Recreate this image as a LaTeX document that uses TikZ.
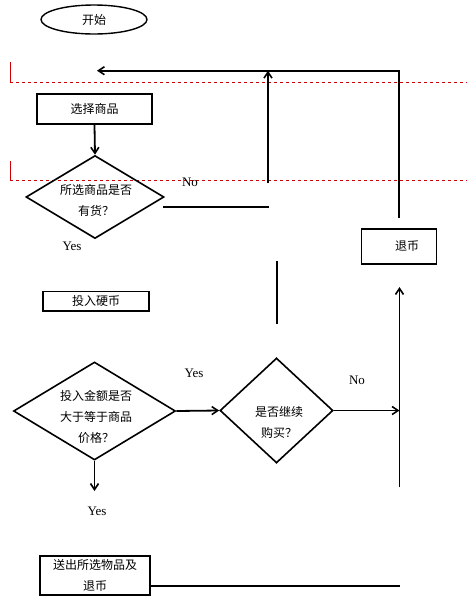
\documentclass[tikz,border=0pt]{standalone}
\usepackage{fontspec}
\setmainfont{Liberation Serif}
\newfontfamily\cjk{Noto Sans CJK SC}
\usetikzlibrary{shapes.geometric,arrows.meta}
\tikzset{
  ln/.style={line width=1.8pt,black},
  arr/.style={ln,-{Straight Barb[length=6pt,width=8pt,line width=1.6pt]}},
  boxnode/.style={draw,line width=1.8pt,inner sep=0pt},
  dia/.style={draw,diamond,line width=1.6pt,inner sep=0pt},
  zh/.style={font=\cjk\fontsize{12}{21}\selectfont,align=center,inner sep=0pt},
  en/.style={font=\fontsize{13}{15}\selectfont,inner sep=0pt},
  reddash/.style={red!80!black,line width=0.7pt,dash pattern=on 3pt off 3pt},
  redsolid/.style={red!80!black,line width=0.7pt}
}
\begin{document}
\begin{tikzpicture}[x=1pt,y=-1pt]
\useasboundingbox[fill=white] (0,0) rectangle (467,603);
% red guide lines
\coordinate (r1a) at (10,62); \coordinate (r1b) at (10,82); \coordinate (r1c) at (467,82);
\coordinate (r2a) at (10,161); \coordinate (r2b) at (10,180); \coordinate (r2c) at (467,180);
\draw[redsolid] (r1a) -- (r1b);
\draw[reddash] (r1b) -- (r1c);
\draw[redsolid] (r2a) -- (r2b);
\draw[reddash] (r2b) -- (r2c);
% shapes
\node[draw,ellipse,line width=1.4pt,minimum width=106pt,minimum height=29pt,inner sep=0pt,zh] (start) at (94,19.5) {开始};
\node[boxnode,minimum width=115pt,minimum height=30pt,zh] (sel) at (94.5,109) {选择商品};
\node[dia,minimum width=138pt,minimum height=83pt] (d1) at (95,197) {};
\node[zh] (d1t) at (96,200) {所选商品是否\\有货？};
\node[en] (yes1) at (72,246) {Yes};
\node[en] (no1) at (190,182) {No};
\node[boxnode,minimum width=75pt,minimum height=35pt] (ret) at (399,246.5) {};
\node[zh] (rett) at (407,246.5) {退币};
\node[boxnode,minimum width=106pt,minimum height=19.7pt,zh] (coin) at (96,301.3) {投入硬币};
\node[dia,minimum width=162pt,minimum height=98pt] (d2) at (94.5,411) {};
\node[zh] (d2t) at (96,416.5) {投入金额是否\\大于等于商品\\价格？};
\node[en] (yes2) at (194,373) {Yes};
\node[dia,minimum width=113pt,minimum height=105pt] (d3) at (276.5,410.5) {};
\node[zh] (d3t) at (279,422) {是否继续\\购买？};
\node[en] (no2) at (357,380) {No};
\node[en] (yes3) at (97,511) {Yes};
\node[boxnode,minimum width=110.6pt,minimum height=39pt] (out) at (95,575.5) {};
\node[zh] (outt) at (95,575) {送出所选物品及\\退币};
% connectors
\coordinate (c1) at (399,217.7);
\coordinate (c2) at (399,70.7);
\coordinate (c3) at (97,70.7);
\draw[arr] (c1) -- (c2) -- (c3);
\coordinate (c4) at (268,183);
\coordinate (c5) at (268,70.7);
\draw[arr] (c4) -- (c5);
\draw[arr] (sel.south) -- (d1.north);
\coordinate (n1a) at (163,207);
\coordinate (n1b) at (269,207);
\draw[ln] (n1a) -- (n1b);
\coordinate (v1a) at (276.7,261);
\coordinate (v1b) at (276.7,324);
\draw[ln] (v1a) -- (v1b);
\coordinate (u1a) at (399.5,487);
\coordinate (u1b) at (399.5,287);
\draw[arr] (u1a) -- (u1b);
\draw[arr] (d2.east) -- (d3.west);
\coordinate (n2b) at (399.5,410.5);
\draw[arr] (d3.east) -- (n2b);
\coordinate (y3b) at (94.5,491);
\draw[arr] (d2.south) -- (y3b);
\coordinate (o1a) at (150.3,585.7);
\coordinate (o1b) at (400,585.7);
\draw[ln] (o1a) -- (o1b);
\end{tikzpicture}
\end{document}
